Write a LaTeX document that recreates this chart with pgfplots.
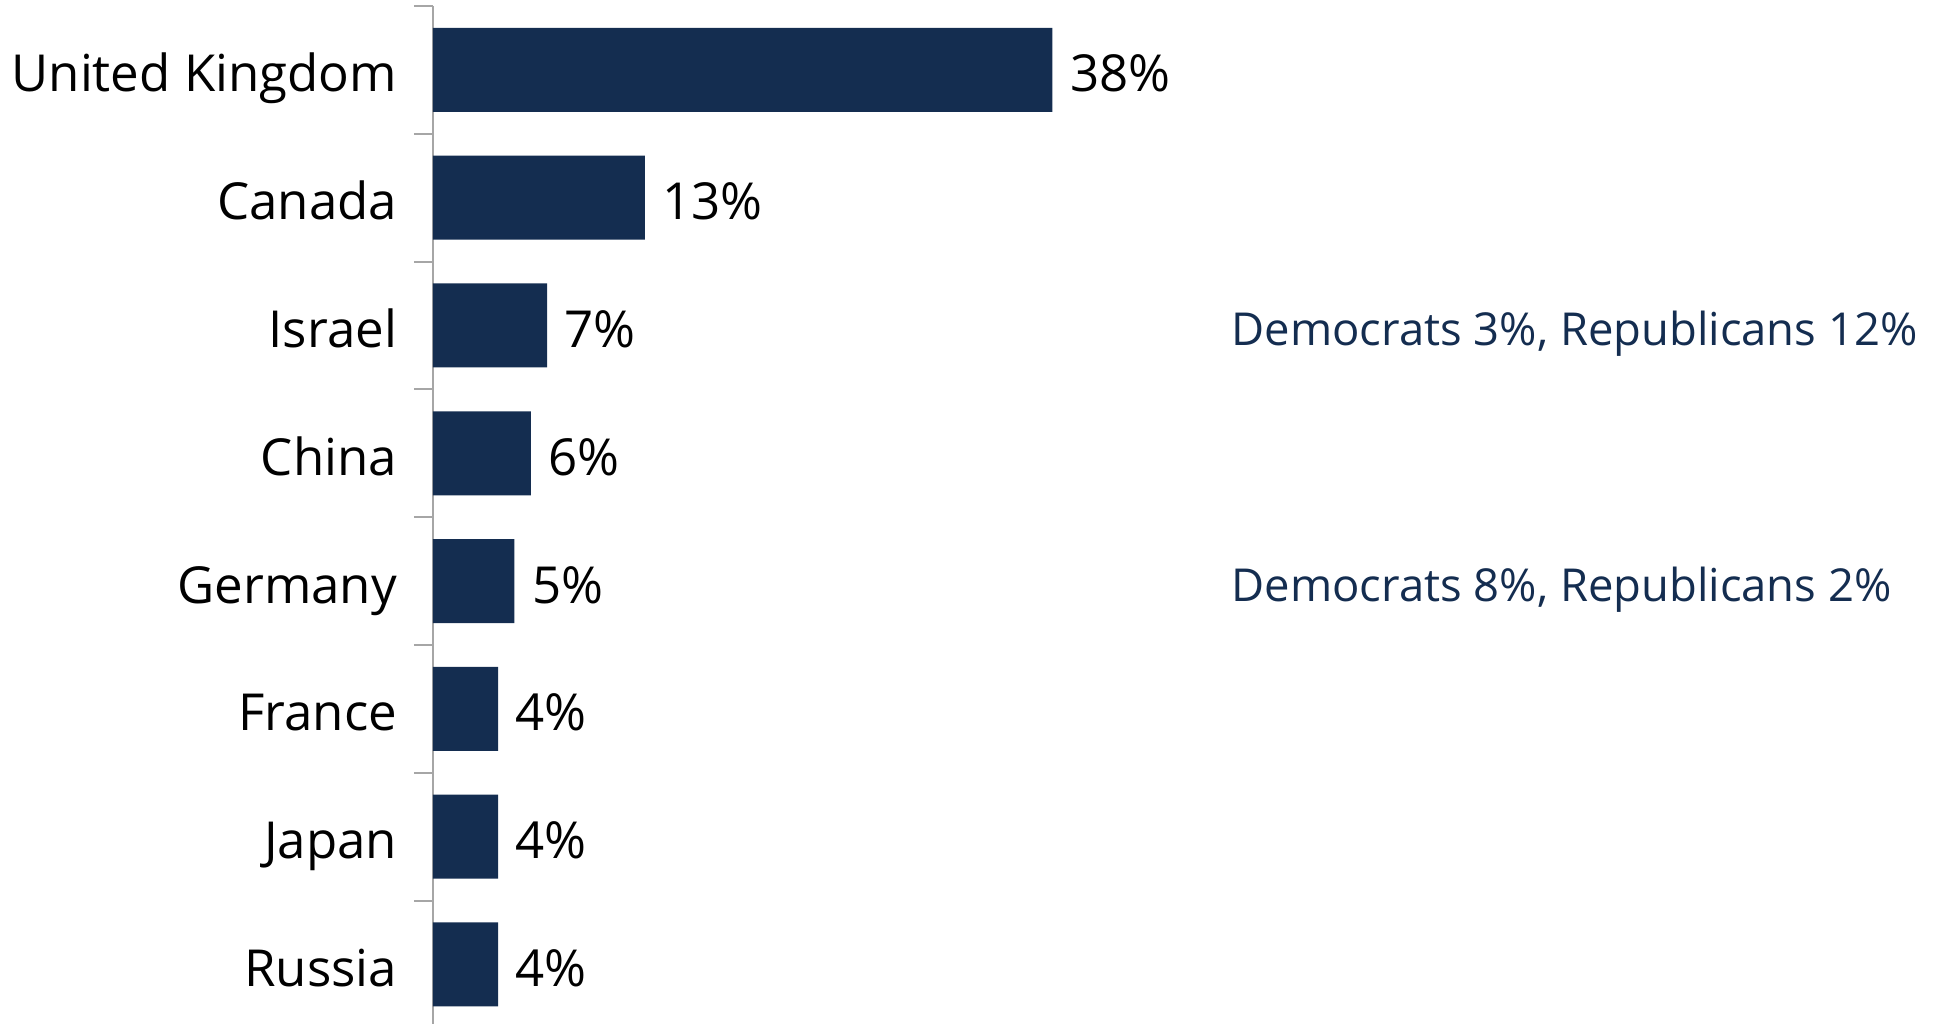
\documentclass[border=0pt]{standalone}
\usepackage{fontspec}
\setmainfont{Open Sans}
\usepackage{pgfplots}
\pgfplotsset{compat=1.18}
\definecolor{barblue}{HTML}{142D50}
\definecolor{axgray}{HTML}{A6A6A6}
\begin{document}
\begin{tikzpicture}[font=\fontsize{12.75pt}{15pt}\selectfont]
\begin{axis}[
  name=ax,
  scale only axis,
  width=376.75pt, height=255.6pt,
  xmin=0, xmax=92.45,
  ymin=-0.5, ymax=7.5,
  y dir=reverse,
  xbar, bar width=21pt, bar shift=0pt,
  axis x line=none,
  axis y line*=left,
  y axis line style={draw=axgray, line width=0.5pt},
  ytick={0,...,7},
  yticklabels={United Kingdom,Canada,Israel,China,Germany,France,Japan,Russia},
  major tick length=0pt,
  minor ytick={-0.5,0.5,...,7.5},
  minor tick length=4.75pt,
  tick pos=left,
  tick style={draw=axgray, line width=0.5pt},
  yticklabel style={inner sep=0pt, xshift=-8.8pt, anchor=base east, yshift=-5.5pt, font=\fontsize{12.75pt}{15pt}\selectfont},
  /pgf/number format/assume math mode=true,
  nodes near coords={\pgfmathprintnumber\pgfplotspointmeta\%},
  every node near coord/.append style={anchor=base west, inner sep=0pt, xshift=4.2pt, yshift=-5.5pt, text=black, font=\fontsize{12.75pt}{15pt}\selectfont},
  clip=false,
]
\addplot[fill=barblue, draw=none] coordinates {
  (38,0) (13,1) (7,2) (6,3) (5,4) (4,5) (4,6) (4,7)
};
\node[anchor=base west, inner sep=0pt, yshift=-5pt, text=barblue, font=\fontsize{11.35pt}{13pt}\selectfont] at (axis cs:48.95,2) {Democrats 3\%, Republicans 12\%};
\node[anchor=base west, inner sep=0pt, yshift=-5pt, text=barblue, font=\fontsize{11.35pt}{13pt}\selectfont] at (axis cs:48.95,4) {Democrats 8\%, Republicans 2\%};
\end{axis}
\pgfresetboundingbox
\path ([xshift=-108.25pt, yshift=1.5pt]ax.north west) rectangle ([xshift=376.75pt, yshift=-254.5pt]ax.north west);
\end{tikzpicture}
\end{document}
